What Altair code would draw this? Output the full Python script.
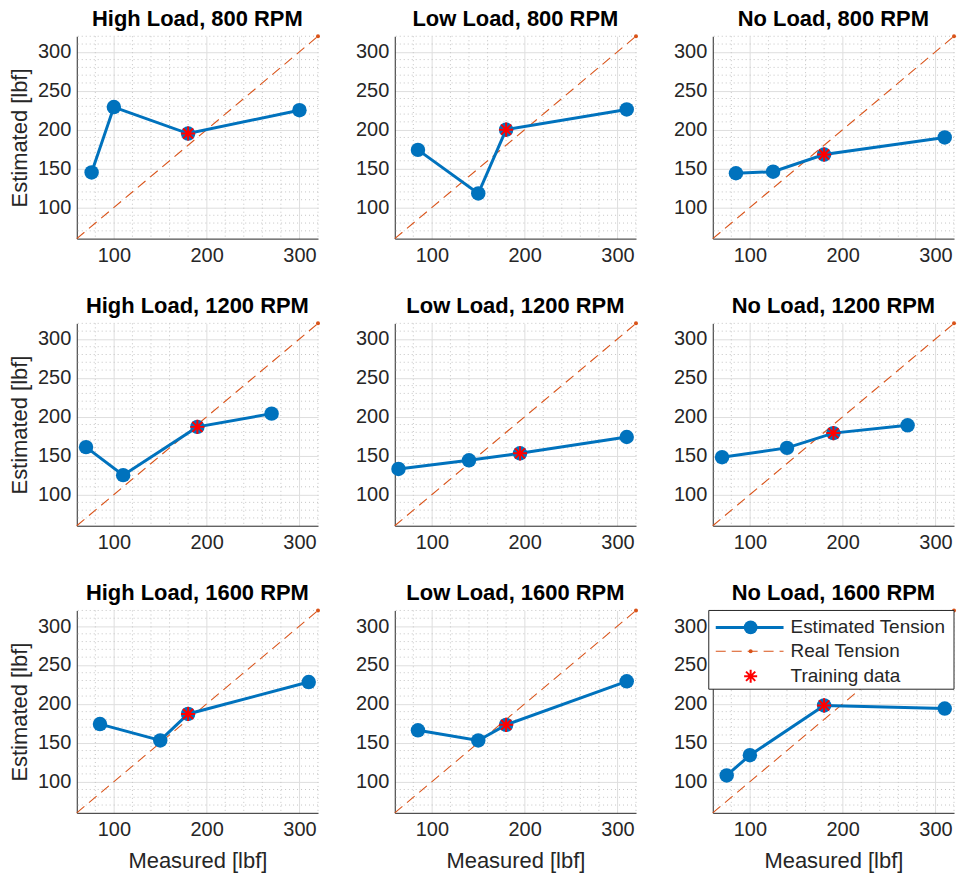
import altair as alt
import pandas as pd

# ---------------- data ----------------
loads = ["High Load", "Low Load", "No Load"]
rpms = [800, 1200, 1600]

hl800_x = [76, 100, 180, 300];  hl800_y = [145, 229, 195, 225]
ll800_x = [85, 150, 180, 310];  ll800_y = [174, 118, 200, 226]
nl800_x = [85, 125, 180, 310];  nl800_y = [144, 146, 168, 190]
hl1200_x = [70, 110, 190, 270]; hl1200_y = [161, 125, 187, 204]
ll1200_x = [64, 140, 195, 310]; ll1200_y = [133, 144, 153, 174]
nl1200_x = [70, 140, 190, 270]; nl1200_y = [148, 160, 179, 189]
hl1600_x = [85, 150, 180, 310]; hl1600_y = [174, 153, 187, 228]
ll1600_x = [85, 150, 180, 310]; ll1600_y = [166, 153, 173, 229]
nl1600_x = [75, 100, 180, 310]; nl1600_y = [108, 134, 198, 194]

# training point per panel (row-major order)
train_x = [180, 180, 180, 190, 195, 190, 180, 180, 180]
train_y = [195, 200, 168, 187, 153, 179, 187, 173, 198]

real_x = [60, 320]
real_y = [60, 320]
real_dot_x = [320]
real_dot_y = [320]

x_ticks = [100, 200, 300]
y_ticks = [100, 150, 200, 250, 300]
minor_x = [80, 120, 140, 160, 180, 220, 240, 260, 280, 320]
minor_y = [70, 80, 90, 110, 120, 130, 140, 160, 170, 180, 190,
           210, 220, 230, 240, 260, 270, 280, 290, 310, 320]

panel_x = [hl800_x, ll800_x, nl800_x, hl1200_x, ll1200_x, nl1200_x, hl1600_x, ll1600_x, nl1600_x]
panel_y = [hl800_y, ll800_y, nl800_y, hl1200_y, ll1200_y, nl1200_y, hl1600_y, ll1600_y, nl1600_y]

legend_labels = ["Estimated Tension", "Real Tension", "Training data"]

# ---------------- style ----------------
BLUE = "#0072BD"
ORANGE = "#D95319"
FONT = "Liberation Sans"
W, H = 242, 203
ASTERISK = "M-1,0L1,0M0,-1L0,1M-0.71,-0.71L0.71,0.71M-0.71,0.71L0.71,-0.71"

xsc = alt.Scale(domain=[60, 320], nice=False, zero=False)
ysc = alt.Scale(domain=[60, 320], nice=False, zero=False)


def panel(i):
    r, c = divmod(i, 3)
    title = f"{loads[c]}, {rpms[r]} RPM"
    xkw = dict(values=x_ticks, grid=True, ticks=False, labelPadding=7, titlePadding=11)
    xkw["title"] = "Measured [lbf]" if r == 2 else ""
    ykw = dict(values=y_ticks, grid=True, ticks=False, labelPadding=6, titlePadding=6)
    ykw["title"] = "Estimated [lbf]" if c == 0 else ""

    def X():
        return alt.X("m:Q", scale=xsc, axis=alt.Axis(**xkw))

    def Y():
        return alt.Y("e:Q", scale=ysc, axis=alt.Axis(**ykw))

    mgx = alt.Chart(pd.DataFrame({"m": minor_x})).mark_rule(
        color="#c4c4c4", strokeDash=[1, 3], strokeWidth=1).encode(x=X())
    mgy = alt.Chart(pd.DataFrame({"e": minor_y})).mark_rule(
        color="#c4c4c4", strokeDash=[1, 3], strokeWidth=1).encode(y=Y())
    real = alt.Chart(pd.DataFrame({"m": real_x, "e": real_y})).mark_line(
        color=ORANGE, strokeWidth=1.1, strokeDash=[10, 6]).encode(x=X(), y=Y())
    dot = alt.Chart(pd.DataFrame({"m": real_dot_x, "e": real_dot_y})).mark_point(
        filled=True, color=ORANGE, size=16, opacity=1).encode(x=X(), y=Y())

    df = pd.DataFrame({"m": panel_x[i], "e": panel_y[i], "k": list(range(len(panel_x[i])))})
    line = alt.Chart(df).mark_line(color=BLUE, strokeWidth=3).encode(
        x=X(), y=Y(), order="k:O")
    pts = alt.Chart(df).mark_point(filled=True, color=BLUE, size=210, opacity=1).encode(
        x=X(), y=Y())
    tr = alt.Chart(pd.DataFrame({"m": [train_x[i]], "e": [train_y[i]]})).mark_point(
        shape=ASTERISK, filled=False, stroke="#ff0000", strokeWidth=2, size=200, opacity=1).encode(
        x=X(), y=Y())

    layers = [mgx, mgy, real, dot, line, pts, tr]

    if i == 8:
        one = alt.Data(values=[{"a": 1}])
        box = alt.Chart(one).mark_rect(fill="white", stroke="#262626", strokeWidth=1).encode(
            x=alt.value(-4), x2=alt.value(242), y=alt.value(0), y2=alt.value(79))
        l1 = alt.Chart(one).mark_rule(color=BLUE, strokeWidth=3).encode(
            x=alt.value(3), x2=alt.value(71), y=alt.value(17))
        p1 = alt.Chart(one).mark_point(filled=True, color=BLUE, size=190, opacity=1).encode(
            x=alt.value(38), y=alt.value(17))
        l2 = alt.Chart(one).mark_rule(color=ORANGE, strokeWidth=1.1, strokeDash=[10, 6]).encode(
            x=alt.value(3), x2=alt.value(71), y=alt.value(41))
        p2 = alt.Chart(one).mark_point(filled=True, color=ORANGE, size=16, opacity=1).encode(
            x=alt.value(38), y=alt.value(41))
        p3 = alt.Chart(one).mark_point(shape=ASTERISK, filled=False, stroke="#ff0000",
                                       strokeWidth=2, size=170, opacity=1).encode(
            x=alt.value(38), y=alt.value(66))
        texts = []
        for lab, yy in zip(legend_labels, [17, 41, 66]):
            texts.append(alt.Chart(one).mark_text(
                text=lab, align="left", baseline="middle", font=FONT, fontSize=19,
                color="#262626").encode(x=alt.value(78), y=alt.value(yy)))
        layers += [box, l1, p1, l2, p2, p3] + texts

    return alt.layer(*layers).properties(
        width=W, height=H,
        title=alt.TitleParams(title, fontSize=22, fontWeight="bold", font=FONT,
                              color="black", offset=3, anchor="middle"))


panels = [panel(i) for i in range(9)]

chart = alt.ConcatChart(
    concat=panels, columns=3,
    spacing={"row": 85, "column": 77},
    bounds="flush",
).properties(
    padding={"left": 8, "top": 6, "right": 0, "bottom": 0},
    background="white",
).configure_view(stroke=None).configure_axis(
    gridColor="#dedede", gridWidth=1, gridOpacity=1,
    domainColor="#262626", domainWidth=1,
    labelColor="#262626", labelFont=FONT, labelFontSize=20,
    titleFont=FONT, titleFontSize=22, titleFontWeight="normal", titleColor="#262626",
)

chart.save("out.html", embed_options={"renderer": "svg", "actions": False})
